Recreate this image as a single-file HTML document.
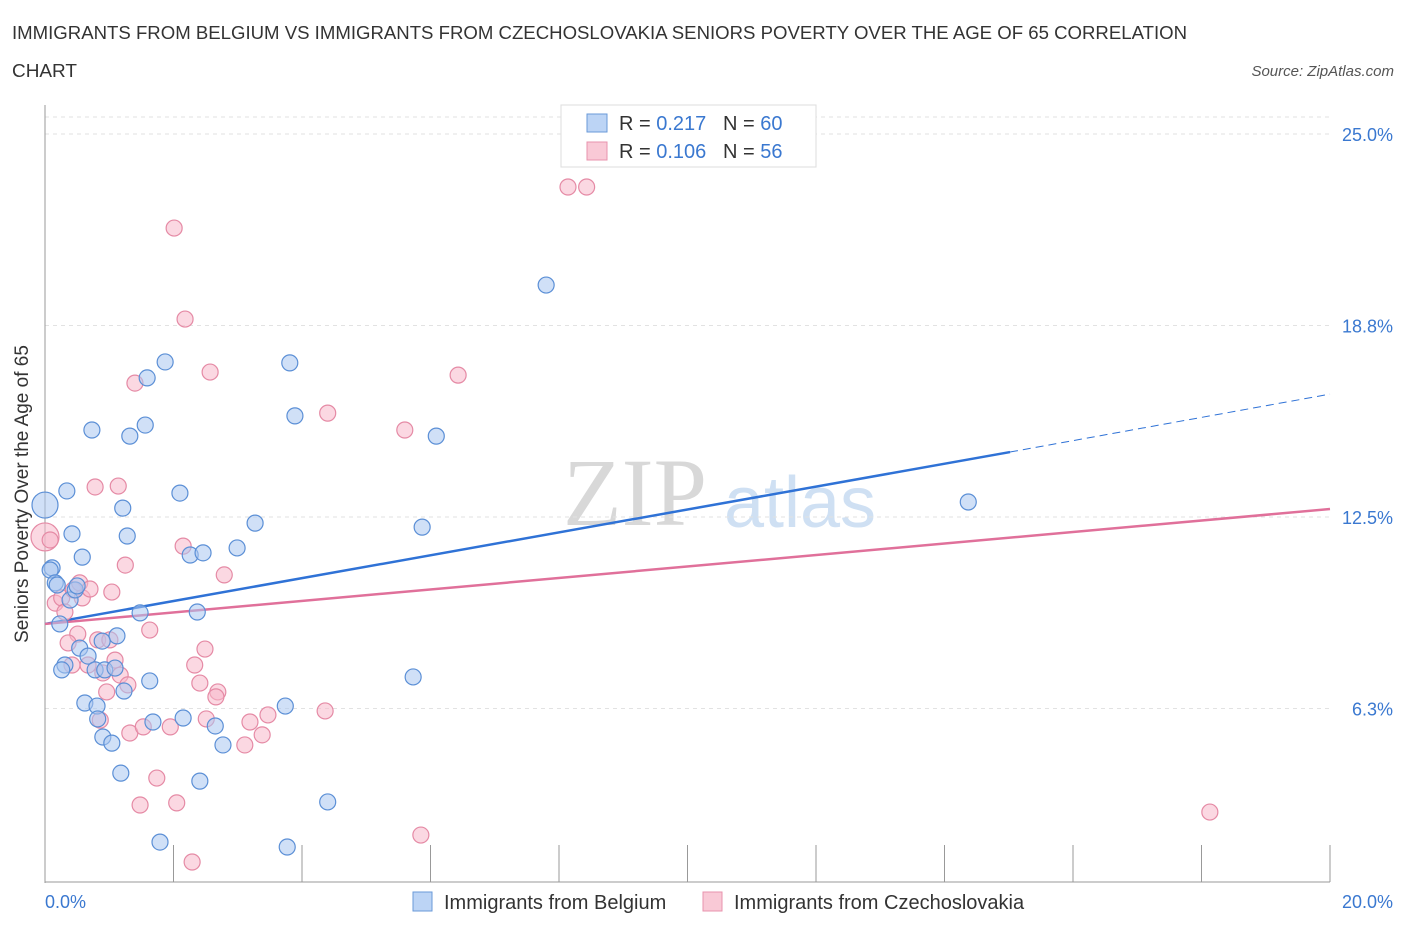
<!DOCTYPE html>
<html><head><meta charset="utf-8">
<style>
body{margin:0;background:#fff;font-family:"Liberation Sans",sans-serif;}
svg{display:block}
</style></head>
<body>
<svg id="chart" width="1406" height="930">
<text x="12" y="39" font-size="18" fill="#333" textLength="1175" lengthAdjust="spacingAndGlyphs">IMMIGRANTS FROM BELGIUM VS IMMIGRANTS FROM CZECHOSLOVAKIA SENIORS POVERTY OVER THE AGE OF 65 CORRELATION</text>
<text x="12" y="77" font-size="18" fill="#333" textLength="65" lengthAdjust="spacingAndGlyphs">CHART</text>
<text x="1394" y="76" font-size="15" fill="#555" font-style="italic" text-anchor="end">Source: ZipAtlas.com</text>
<text x="635" y="525" font-size="96" fill="#d8d8d8" text-anchor="middle" font-family="Liberation Serif,serif">ZIP</text>
<text x="800" y="527" font-size="72" fill="#cfe0f3" text-anchor="middle">atlas</text>
<g id="grid"></g>
<g id="axes"></g>
<g id="lines"></g>
<g id="pts"></g>
<text x="28" y="494" font-size="19" fill="#333" text-anchor="middle" transform="rotate(-90 28 494)">Seniors Poverty Over the Age of 65</text>
<text x="45" y="908" font-size="18" fill="#3a78d0">0.0%</text>
<text x="1393" y="908" font-size="18" fill="#3a78d0" text-anchor="end">20.0%</text>
<g>
<rect x="561" y="105" width="255" height="62" fill="#fff" stroke="#ddd"/>
<rect x="587" y="114" width="20" height="18" fill="#bcd4f5" stroke="#6a9ad8"/>
<rect x="587" y="142" width="20" height="18" fill="#f9c9d6" stroke="#e893ad"/>
<text x="619" y="130" font-size="20" fill="#333">R = <tspan fill="#3a78d0">0.217</tspan>&#160;&#160;&#160;N = <tspan fill="#3a78d0">60</tspan></text>
<text x="619" y="158" font-size="20" fill="#333">R = <tspan fill="#3a78d0">0.106</tspan>&#160;&#160;&#160;N = <tspan fill="#3a78d0">56</tspan></text>
</g>
<g>
<rect x="413" y="892" width="19" height="19" fill="#bcd4f5" stroke="#6a9ad8"/>
<text x="444" y="909" font-size="20" fill="#333">Immigrants from Belgium</text>
<rect x="703" y="892" width="19" height="19" fill="#f9c9d6" stroke="#e893ad"/>
<text x="734" y="909" font-size="20" fill="#333">Immigrants from Czechoslovakia</text>
</g>
</svg>
<script>
const yTicks=[6.25,12.5,18.75,25];
const yTickLabels=["6.3%","12.5%","18.8%","25.0%"];
const xTicks=[0,2,4,6,8,10,12,14,16,18,20];
const belgiumX=[0,0.34,0.11,0.08,0.16,0.19,0.42,0.58,0.23,0.39,0.47,0.50,0.73,1.32,1.56,1.59,1.87,1.21,1.28,2.10,2.26,2.46,2.99,3.27,2.37,1.48,1.12,0.89,0.54,0.67,0.31,0.26,0.78,0.93,1.09,1.63,1.23,0.62,0.81,0.82,0.90,1.04,1.68,2.15,2.65,2.77,3.74,1.18,2.41,4.40,1.79,3.77,3.81,3.89,6.09,5.87,5.73,7.80,14.37];
const belgiumY=[12.89,13.35,10.84,10.77,10.35,10.28,11.95,11.19,9.01,9.79,10.12,10.25,15.34,15.14,15.50,17.04,17.56,12.79,11.88,13.28,11.26,11.33,11.49,12.30,9.40,9.37,8.62,8.45,8.22,7.96,7.67,7.51,7.51,7.51,7.57,7.15,6.82,6.43,6.33,5.91,5.32,5.12,5.81,5.94,5.68,5.06,6.33,4.14,3.88,3.20,1.89,1.73,17.53,15.80,15.14,12.17,7.28,20.07,12.99];
const czechX=[0,0.08,0.16,0.26,0.31,0.44,0.54,0.58,0.70,0.78,1.14,1.25,1.04,0.51,0.36,0.82,1.01,0.42,0.67,1.09,0.90,1.17,1.29,0.96,0.86,1.63,2.15,2.79,2.33,2.49,2.41,2.69,2.66,2.51,3.19,3.47,3.38,3.11,1.95,1.32,1.53,1.74,1.48,2.05,2.29,2.01,2.18,1.40,2.57,4.40,5.60,6.43,8.14,8.43,4.36,5.85,18.13];
const czechY=[11.85,11.75,9.69,9.86,9.40,10.12,10.35,9.86,10.15,13.48,13.51,10.93,10.05,8.68,8.39,8.49,8.49,7.67,7.67,7.83,7.41,7.34,7.02,6.79,5.87,8.81,11.55,10.61,7.67,8.19,7.08,6.79,6.63,5.91,5.81,6.04,5.39,5.06,5.65,5.45,5.65,3.98,3.10,3.17,1.24,21.93,18.96,16.87,17.23,15.89,15.34,17.13,23.27,23.27,6.17,2.12,2.87];
const belgiumTrend=[9.01,14.62,16.51]; const belgiumTrendX=[0,15.02,20];
const czechTrend=[9.01,12.76]; const czechTrendX=[0,20];
const NS="http://www.w3.org/2000/svg";
const sx=v=>45+v/20*1285, sy=v=>900-v/25*766;
function mk(tag,attrs,parent){const e=document.createElementNS(NS,tag);for(const k in attrs)e.setAttribute(k,attrs[k]);parent.appendChild(e);return e;}
const grid=document.getElementById('grid'),axes=document.getElementById('axes'),lines=document.getElementById('lines'),pts=document.getElementById('pts');
yTicks.forEach((t,i)=>{
 const l=mk('line',{x1:45,x2:1330,y1:sy(t),y2:sy(t),stroke:'#e2e2e2','stroke-dasharray':'4,4'},grid);
 
 
 const tx=mk('text',{x:1393,y:sy(t)+7,'font-size':18,fill:'#3a78d0','text-anchor':'end'},grid);
 tx.textContent=yTickLabels[i];
 
 
});
const tg=mk('line',{x1:45,x2:1330,y1:117,y2:117,stroke:'#e2e2e2','stroke-dasharray':'4,4'},grid);
const ya=mk('line',{x1:45,x2:45,y1:105,y2:883,stroke:'#999'},axes);


const xa=mk('line',{x1:45,x2:1330,y1:882,y2:882,stroke:'#999'},axes);


xTicks.forEach(t=>{
 const l=mk('line',{x1:sx(t),x2:sx(t),y1:845,y2:882,stroke:'#999'},axes);
 
 
});
function dots(X,Y,fill,stroke,name){
 X.forEach((x,i)=>{
  const r=(x===0)?(name==='belgium-point'?13:14):8;
  const c=mk('circle',{cx:sx(x),cy:sy(Y[i]),r:r,fill:fill,'fill-opacity':0.55,stroke:stroke,'stroke-width':1.2},pts);
  
  
 });
}
dots(czechX,czechY,'#f7b8ca','#e58aa5','czechoslovakia-point');
dots(belgiumX,belgiumY,'#a9c7f0','#5b8fd6','belgium-point');
const b1=mk('line',{x1:sx(belgiumTrendX[0]),y1:sy(belgiumTrend[0]),x2:sx(belgiumTrendX[1]),y2:sy(belgiumTrend[1]),stroke:'#2f72d6','stroke-width':2.5},lines);


const b2=mk('line',{x1:sx(belgiumTrendX[1]),y1:sy(belgiumTrend[1]),x2:sx(belgiumTrendX[2]),y2:sy(belgiumTrend[2]),stroke:'#2f72d6','stroke-width':1,'stroke-dasharray':'8,5'},lines);


const c1=mk('line',{x1:sx(czechTrendX[0]),y1:sy(czechTrend[0]),x2:sx(czechTrendX[1]),y2:sy(czechTrend[1]),stroke:'#e0709a','stroke-width':2.5},lines);


</script>
</body></html>
